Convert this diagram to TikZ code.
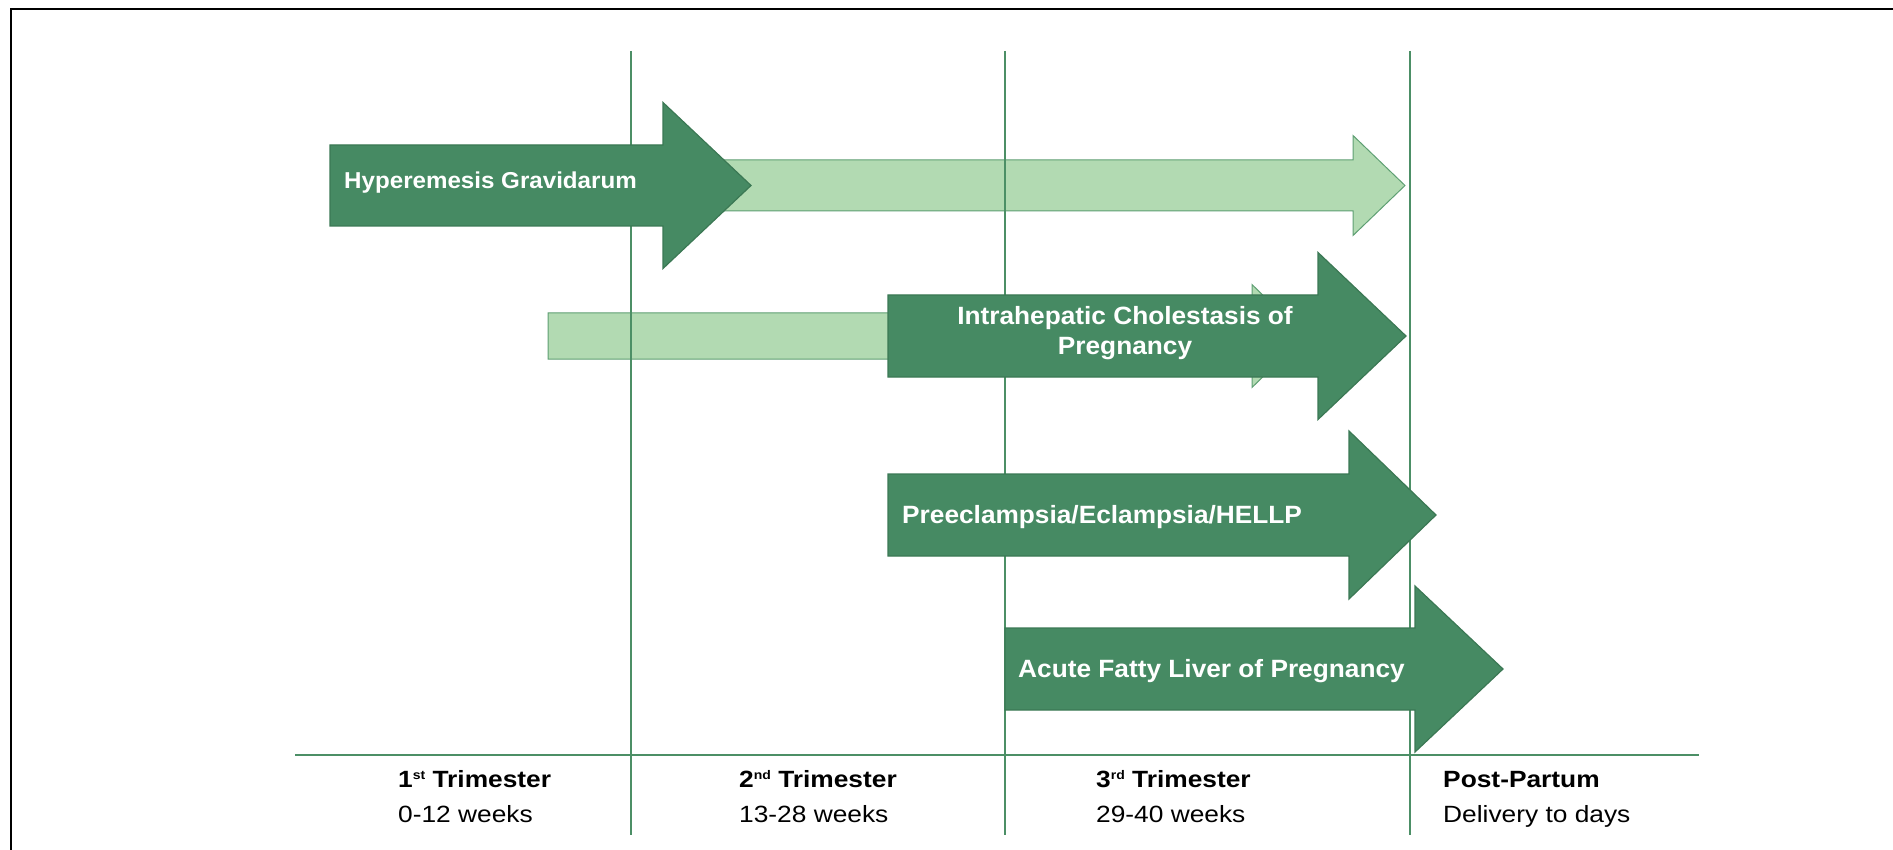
\documentclass[tikz,border=0pt]{standalone}
\usepackage{fontspec}
\setmainfont{Liberation Sans}
\newfontfamily\arrfont[FakeStretch=1.05]{Liberation Sans}
\newfontfamily\axfont[FakeStretch=1.12]{Liberation Sans}
\definecolor{dkg}{HTML}{468A63}
\definecolor{dkgline}{HTML}{3B7854}
\definecolor{ltg}{HTML}{B2DAB2}
\definecolor{ltgline}{HTML}{5E9F73}
\definecolor{gline}{HTML}{4C8F66}
% #1 style, #2 x start, #3 head base x, #4 tip x, #5 centre y, #6 body half height, #7 head half height
\newcommand\garrow[7]{\filldraw[#1] (#2,#5-#6) -- (#3,#5-#6) -- (#3,#5-#7) -- (#4,#5) -- (#3,#5+#7) -- (#3,#5+#6) -- (#2,#5+#6) -- cycle;}
\newcommand\supsc[1]{\raisebox{8pt}{\fontsize{12.5}{12.5}\selectfont #1}}
\begin{document}
\begin{tikzpicture}[x=1pt,y=-1pt,
  dark/.style={fill=dkg,draw=dkgline,line width=1.2pt,line join=miter},
  light/.style={fill=ltg,draw=ltgline,line width=1pt,line join=miter},
  gridline/.style={draw=gline,line width=2pt},
  arrlab/.style={text=white,font=\arrfont\bfseries\fontsize{25}{30}\selectfont,inner sep=0pt},
  axb/.style={font=\axfont\bfseries\fontsize{23.5}{28}\selectfont,inner sep=0pt,anchor=base west},
  axn/.style={font=\axfont\fontsize{23.5}{28}\selectfont,inner sep=0pt,anchor=base west}]
\useasboundingbox (0,0) rectangle (1893,850);
% frame
\draw[line width=2pt] (11,850) -- (11,9) -- (1893,9);
% light arrows
\garrow{light}{600}{1353}{1405}{185.5}{25.5}{50}
\garrow{light}{548}{1252}{1304}{336}{23}{51.5}
% grid lines
\coordinate (v1t) at (631,51);  \coordinate (v1b) at (631,835);
\coordinate (v2t) at (1005,51); \coordinate (v2b) at (1005,835);
\coordinate (v3t) at (1410,51); \coordinate (v3b) at (1410,835);
\coordinate (hl) at (295,754.5); \coordinate (hr) at (1699,754.5);
\draw[gridline] (v1t) -- (v1b);
\draw[gridline] (v2t) -- (v2b);
\draw[gridline] (v3t) -- (v3b);
\draw[gridline] (hl) -- (hr);
% dark arrows
\garrow{dark}{330}{663}{751}{185.5}{40.5}{83}
\garrow{dark}{888}{1318}{1406}{336}{41}{83.5}
\garrow{dark}{888}{1349}{1436}{515}{41}{84}
\garrow{dark}{1005}{1415}{1503}{669}{41}{83}
% arrow labels
\node[arrlab,anchor=base west,font=\arrfont\bfseries\fontsize{23}{28}\selectfont] (hg) at (344,189) {Hyperemesis Gravidarum};
\node[arrlab,align=center] (icp) at (1125,333.5) {Intrahepatic Cholestasis of\\Pregnancy};
\node[arrlab,anchor=base west] (pe) at (902,523) {Preeclampsia/Eclampsia/HELLP};
\node[arrlab,anchor=base west] (afl) at (1018,677) {Acute Fatty Liver of Pregnancy};
% axis labels
\node[axb] (t1) at (398,787) {1\supsc{st} Trimester};
\node[axn] (w1) at (398,822) {0-12 weeks};
\node[axb] (t2) at (739,787) {2\supsc{nd} Trimester};
\node[axn] (w2) at (739,822) {13-28 weeks};
\node[axb] (t3) at (1096,787) {3\supsc{rd} Trimester};
\node[axn] (w3) at (1096,822) {29-40 weeks};
\node[axb] (t4) at (1443,787) {Post-Partum};
\node[axn] (w4) at (1443,822) {Delivery to days};
\end{tikzpicture}
\end{document}
